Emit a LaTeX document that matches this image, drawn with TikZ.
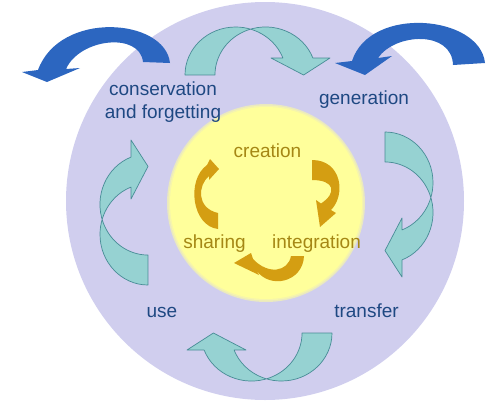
\documentclass[tikz,border=0pt]{standalone}
\usepackage{fontspec}
\setmainfont{Liberation Sans}
\definecolor{lav}{RGB}{208,206,238}
\definecolor{yel}{RGB}{255,255,155}
\definecolor{tealf}{RGB}{150,210,210}
\definecolor{teald}{RGB}{72,140,150}
\definecolor{bluef}{RGB}{44,102,192}
\definecolor{goldf}{RGB}{212,158,18}
\definecolor{txtblue}{RGB}{30,72,130}
\definecolor{txtgold}{RGB}{165,135,20}
\def\tealpath{(0,-50.6) arc[start angle=-90, end angle=69.3, x radius=48, y radius=50.6]
  -- (17,35.4) -- (0,68) -- (17,94.4) -- (17,77.3)
  arc[start angle=69.3, end angle=-90, x radius=48, y radius=50.6] -- cycle}
\begin{document}
\begin{tikzpicture}[x=1pt,y=-1pt,
  teal arrow/.style={fill=tealf,draw=teald,line width=0.7pt,line join=round},
  blue arrow/.style={fill=bluef},
  gold arrow/.style={fill=goldf},
  outer label/.style={text=txtblue,font=\fontsize{19}{23}\selectfont,anchor=base,inner sep=0pt},
  inner label/.style={text=txtgold,font=\fontsize{19}{23}\selectfont,anchor=base,inner sep=0pt}]
\useasboundingbox (0,0) rectangle (493,400);
% circles
\fill[lav] (265,201) circle[radius=199];
\fill[yel!55!lav] (266,203) circle[radius=99];
\fill[yel!80!lav] (266,203) circle[radius=97.5];
\fill[yel] (266,203) circle[radius=96];
% teal curved arrows
\begin{scope}[shift={(235.6,75)},rotate=90]
  \path[teal arrow] \tealpath;
\end{scope}
\begin{scope}[shift={(385,182.6)}]
  \path[teal arrow] \tealpath;
\end{scope}
\begin{scope}[shift={(281.4,333)},rotate=-90]
  \path[teal arrow] \tealpath;
\end{scope}
\begin{scope}[shift={(148,234.4)},rotate=180]
  \path[teal arrow] \tealpath;
\end{scope}
% blue arrows
\fill[blue arrow] (170,63) .. controls (165,18) and (60,10) .. (38,70)
  -- (22,72) -- (47,82) -- (80,68) -- (66,69)
  .. controls (80,38) and (140,32) .. (143,62) -- cycle;
\fill[blue arrow] (485,63) .. controls (480,15) and (370,5) .. (352,61)
  -- (335,63) -- (365,75) -- (392,56) -- (378,58)
  .. controls (395,33) and (452,30) .. (453,65) -- cycle;
% gold arrows
\fill[gold arrow] (218,229) .. controls (192,226) and (186,180) .. (207,165)
  -- (210,159) -- (219,169) -- (209,180) -- (209,176)
  .. controls (198,185) and (196,208) .. (218,213) -- cycle;
\fill[gold arrow] (312,160) .. controls (342,160) and (346,195) .. (331,210)
  -- (336,213) -- (320,227) -- (316,200) -- (321,203.5)
  .. controls (337,193) and (335,180) .. (312,180) -- cycle;
\fill[gold arrow] (304,256) .. controls (303,282) and (270,290) .. (256,270)
  -- (259,275) -- (234,263) -- (251,253) -- (253,259)
  .. controls (268,275) and (288,272) .. (291,256) -- cycle;
% labels
\node[outer label] (cons) at (163,95) {conservation};
\node[outer label] (forg) at (163,118) {and forgetting};
\node[outer label] (gen) at (364,104) {generation};
\node[outer label] (use) at (162,317) {use};
\node[outer label] (trans) at (366.5,317) {transfer};
\node[inner label] (crea) at (267.5,157) {creation};
\node[inner label] (shar) at (214.5,248) {sharing};
\node[inner label] (integ) at (316.5,248) {integration};
\end{tikzpicture}
\end{document}
